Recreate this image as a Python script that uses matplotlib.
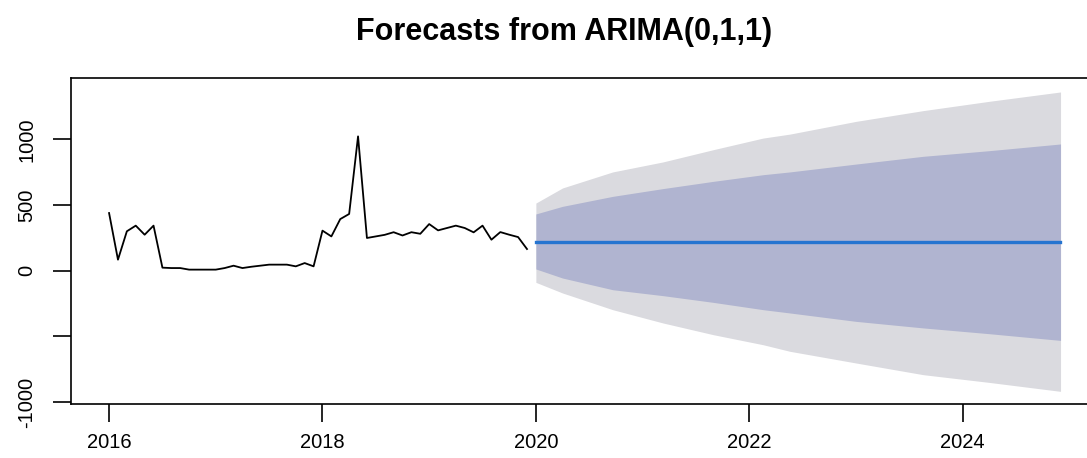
import matplotlib.pyplot as plt
import numpy as np

plt.rcParams["font.family"] = ["Liberation Sans", "DejaVu Sans"]

# monthly observations, Jan 2016 - Dec 2019
start_year = 2016
observed = [439, 84, 300, 343, 274, 343, 23, 20, 20, 8, 8, 8,
            8, 20, 38, 20, 30, 38, 46, 46, 46, 33, 58, 33,
            305, 261, 393, 432, 1023, 249, 261, 273, 293, 268, 293, 281,
            355, 307, 325, 343, 325, 292, 343, 236, 294, 274, 256, 165]

# point forecast, 60 months from Jan 2020
fc_start = 2020.0
fc_months = 60
point_forecast = 221

# prediction interval bounds read at these times
band_t = [2020.0, 2020.25, 2020.72, 2021.19, 2021.66, 2022.13,
          2022.38, 2023.0, 2023.63, 2024.25, 2024.917]
hi95 = [515, 630, 752, 828, 921, 1010, 1040, 1137, 1219, 1290, 1361]
hi80 = [432, 490, 566, 625, 680, 731, 752, 812, 871, 914, 965]
lo80 = [13, -56, -145, -190, -241, -297, -322, -386, -436, -480, -531]
lo95 = [-89, -170, -297, -398, -487, -564, -614, -703, -792, -851, -919]

t_obs = start_year + np.arange(len(observed)) / 12
t_fc = fc_start + np.arange(fc_months) / 12

fig = plt.figure(figsize=(10.87, 4.58), dpi=100)
ax = fig.add_axes([0.0653, 0.118, 0.945, 0.711])

ax.fill_between(band_t, lo95, hi95, color="#DADADF", lw=0)
ax.fill_between(band_t, lo80, hi80, color="#B0B4D0", lw=0)
ax.plot(t_obs, observed, color="black", lw=1.3)
ax.plot(t_fc, np.full(fc_months, point_forecast), color="#2574D0", lw=2.4)

ax.set_xlim(2015.643, 2025.27)
ax.set_ylim(-1015, 1465)

ax.set_xticks([2016, 2018, 2020, 2022, 2024])
ax.set_xticklabels(["2016", "2018", "2020", "2022", "2024"], fontsize=14.5)
ax.set_yticks([-1000, -500, 0, 500, 1000])
ax.set_yticklabels(["-1000", "", "0", "500", "1000"], fontsize=14.5,
                   rotation=90, va="center")
ax.tick_params(direction="out", length=13, width=1.2)
ax.tick_params(axis="x", pad=8)
ax.tick_params(axis="y", pad=12)
for s in ax.spines.values():
    s.set_linewidth(1.2)

fig.text(0.519, 0.93, "Forecasts from ARIMA(0,1,1)", ha="center", va="center",
         fontsize=22, fontweight="bold")

fig.savefig("out.png", dpi=100)
